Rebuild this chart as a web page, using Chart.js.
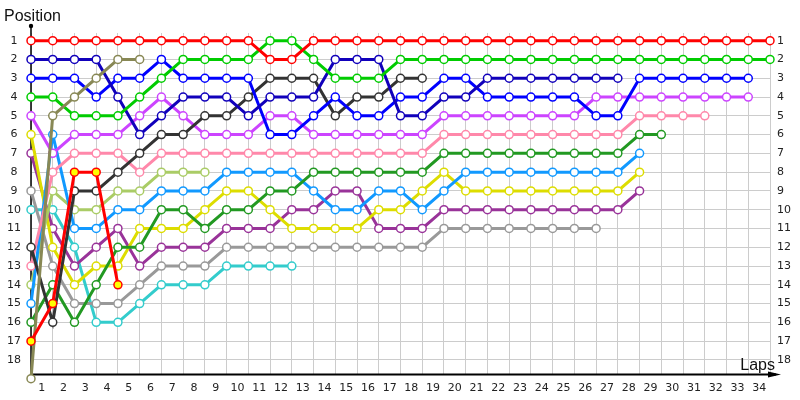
<!DOCTYPE html>
<html>
<head>
<meta charset="utf-8">
<script src="https://cdn.jsdelivr.net/npm/chart.js@4/dist/chart.umd.min.js"></script>
<style>
html,body{margin:0;padding:0;background:#ffffff;}
#wrap{width:800px;height:400px;}
</style>
</head>
<body>
<div id="wrap"><canvas id="c" width="800" height="400"></canvas></div>
<script>
// ---- data ----
const laps = [0,1,2,3,4,5,6,7,8,9,10,11,12,13,14,15,16,17,18,19,20,21,22,23,24,25,26,27,28,29,30,31,32,33,34];
const lapLabels = ['1','2','3','4','5','6','7','8','9','10','11','12','13','14','15','16','17','18','19','20','21','22','23','24','25','26','27','28','29','30','31','32','33','34'];
const positionTicks = [1,2,3,4,5,6,7,8,9,10,11,12,13,14,15,16,17,18];

// position of each car at the end of each lap (index = lap, 0 = grid)
const posRed        = [1,1,1,1,1,1,1,1,1,1,1,2,2,1,1,1,1,1,1,1,1,1,1,1,1,1,1,1,1,1,1,1,1,1,1];
const posGreen      = [4,4,5,5,5,4,3,2,2,2,2,1,1,2,3,3,3,2,2,2,2,2,2,2,2,2,2,2,2,2,2,2,2,2,2];
const posNavy       = [2,2,2,2,4,6,5,4,4,4,5,4,4,4,2,2,2,5,5,4,4,3,3,3,3,3,3,3];
const posBlue       = [3,3,3,4,3,3,2,3,3,3,3,6,6,5,4,5,5,4,4,3,3,4,4,4,4,4,5,5,3,3,3,3,3,3];
const posBlack      = [12,16,9,9,8,7,6,6,5,5,4,3,3,3,5,4,4,3,3];
const posOlive      = [19,5,4,3,2,2];
const posViolet     = [5,7,6,6,6,5,4,5,6,6,6,5,5,6,6,6,6,6,6,5,5,5,5,5,5,5,4,4,4,4,4,4,4,4];
const posPink       = [13,8,7,7,7,8,7,7,7,7,7,7,7,7,7,7,7,7,7,6,6,6,6,6,6,6,6,6,5,5,5,5];
const posDarkGreen  = [16,14,16,14,12,12,10,10,11,10,10,9,9,8,8,8,8,8,8,7,7,7,7,7,7,7,7,7,6,6];
const posLightBlue  = [15,6,11,11,10,10,9,9,9,8,8,8,8,9,10,10,9,9,10,9,8,8,8,8,8,8,8,8,7];
const posLightGreen = [14,9,10,10,9,9,8,8,8];
const posYellow     = [6,12,14,13,13,11,11,11,10,9,9,10,11,11,11,11,10,10,9,8,9,9,9,9,9,9,9,9,8];
const posPurple     = [7,11,13,12,11,13,12,12,12,11,11,11,10,10,9,9,11,11,11,10,10,10,10,10,10,10,10,10,9];
const posGray       = [9,13,15,15,15,14,13,13,13,12,12,12,12,12,12,12,12,12,12,11,11,11,11,11,11,11,11];
const posCyan       = [10,10,12,16,16,15,14,14,14,13,13,13,13];
const posRedYellow  = [17,15,8,8,14];

// ---- build ----
function series(label, color, positions, fill) {
  return {
    label: label,
    data: positions.map((p, i) => ({ x: laps[i], y: p })),
    borderColor: color,
    backgroundColor: fill || '#ffffff',
    pointBackgroundColor: fill || '#ffffff',
    pointBorderColor: color,
    borderWidth: 3,
    pointRadius: 4,
    pointBorderWidth: 1.5,
    pointHoverRadius: 4,
    tension: 0,
    clip: false
  };
}

const datasets = [
  series('Car 17', '#ff0000', posRedYellow, '#ffff00'),
  series('Car 6',  '#888855', posOlive),
  series('Car 1',  '#ff0000', posRed),
  series('Car 2',  '#00cc00', posGreen),
  series('Car 3',  '#1100bb', posNavy),
  series('Car 4',  '#0000ff', posBlue),
  series('Car 5',  '#333333', posBlack),
  series('Car 7',  '#cc44ff', posViolet),
  series('Car 8',  '#ff88aa', posPink),
  series('Car 9',  '#229922', posDarkGreen),
  series('Car 10', '#1199ff', posLightBlue),
  series('Car 11', '#aacc66', posLightGreen),
  series('Car 12', '#dddd00', posYellow),
  series('Car 13', '#993399', posPurple),
  series('Car 14', '#999999', posGray),
  series('Car 15', '#33cccc', posCyan)
];

const tickFont = { family: 'DejaVu Sans', size: 11 };

const decor = {
  id: 'decor',
  beforeDatasetsDraw(chart) {
    const ctx = chart.ctx;
    const a = chart.chartArea;
    ctx.save();
    ctx.strokeStyle = '#000000';
    ctx.fillStyle = '#000000';
    // y axis
    ctx.lineWidth = 1.5;
    ctx.beginPath();
    ctx.moveTo(a.left, a.top - 7);
    ctx.lineTo(a.left, a.bottom + 1);
    ctx.stroke();
    ctx.beginPath();
    ctx.arc(a.left, a.top - 7, 2.2, 0, Math.PI * 2);
    ctx.fill();
    // x axis
    ctx.lineWidth = 2;
    ctx.beginPath();
    ctx.moveTo(a.left, a.bottom + 0.5);
    ctx.lineTo(a.right + 6, a.bottom + 0.5);
    ctx.stroke();
    ctx.beginPath();
    ctx.moveTo(a.right - 2, a.bottom - 2.5);
    ctx.lineTo(a.right + 11, a.bottom + 0.5);
    ctx.lineTo(a.right - 2, a.bottom + 3.5);
    ctx.closePath();
    ctx.fill();
    ctx.restore();
  },
  afterDraw(chart) {
    const ctx = chart.ctx;
    const a = chart.chartArea;
    ctx.save();
    ctx.font = '16px "Liberation Sans", Arial, sans-serif';
    ctx.fillStyle = '#111111';
    ctx.textBaseline = 'alphabetic';
    ctx.textAlign = 'left';
    ctx.fillText('Position', 4, 21);
    ctx.textAlign = 'right';
    ctx.fillText('Laps', a.right + 5, a.bottom - 4);
    ctx.restore();
  }
};

new Chart(document.getElementById('c'), {
  type: 'line',
  data: { datasets: datasets },
  plugins: [decor],
  options: {
    responsive: false,
    animation: false,
    events: [],
    layout: { padding: { top: 33, left: 0, right: 0, bottom: 0 } },
    plugins: { legend: { display: false }, tooltip: { enabled: false }, title: { display: false } },
    scales: {
      x: {
        type: 'linear', position: 'bottom', min: 0, max: 34,
        afterBuildTicks: s => { s.ticks = lapLabels.map((_, i) => ({ value: i + 0.5 })); },
        afterFit: s => { s.height = 26; },
        ticks: {
          autoSkip: false, maxRotation: 0, minRotation: 0, padding: 8,
          color: '#222222', font: tickFont,
          callback: (v, i) => lapLabels[i]
        },
        grid: { offset: true, color: '#cccccc', lineWidth: 1, drawTicks: false },
        border: { display: false }
      },
      y: {
        type: 'linear', position: 'left', reverse: true, min: 0.59, max: 18.75,
        afterBuildTicks: s => { s.ticks = positionTicks.map(v => ({ value: v })); },
        afterFit: s => { s.width = 31; },
        ticks: { crossAlign: 'center', padding: 10, color: '#222222', font: tickFont, autoSkip: false },
        grid: { color: '#cccccc', lineWidth: 1, drawTicks: false },
        border: { display: false }
      },
      y2: {
        type: 'linear', position: 'right', reverse: true, min: 0.59, max: 18.75,
        afterBuildTicks: s => { s.ticks = positionTicks.map(v => ({ value: v })); },
        afterFit: s => { s.width = 30; },
        ticks: { padding: 7, color: '#222222', font: tickFont, autoSkip: false },
        grid: { display: false, drawTicks: false },
        border: { display: false }
      }
    }
  }
});
</script>
</body>
</html>
